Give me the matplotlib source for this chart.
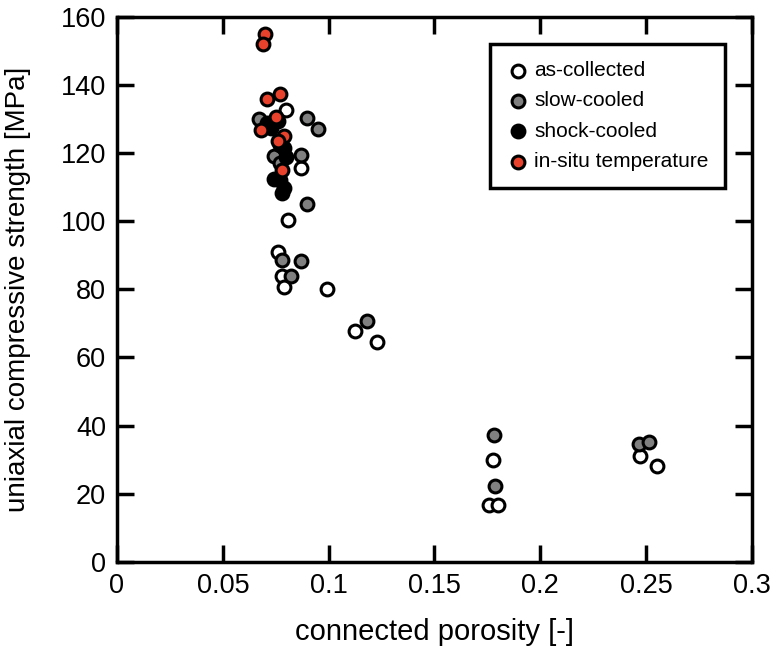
import matplotlib
matplotlib.use("Agg")
from matplotlib import pyplot as plt
import numpy as np

# connected porosity [-], UCS [MPa]
as_collected_x = [0.080, 0.087, 0.081, 0.076, 0.078, 0.079, 0.099, 0.1125, 0.123,
                  0.1777, 0.176, 0.180, 0.247, 0.255]
as_collected_y = [132.7, 115.7, 100.5, 91.0, 84.0, 80.8, 80.0, 67.8, 64.5,
                  29.8, 16.8, 16.8, 31.0, 28.0]

slow_cooled_x = [0.067, 0.090, 0.095, 0.074, 0.077, 0.087, 0.090, 0.078, 0.087,
                 0.082, 0.118, 0.178, 0.1786, 0.2466, 0.2513]
slow_cooled_y = [130.0, 130.3, 127.0, 119.3, 117.0, 119.5, 105.0, 88.7, 88.4,
                 83.8, 70.8, 37.3, 22.3, 34.6, 35.3]

shock_cooled_x = [0.071, 0.073, 0.076, 0.077, 0.079, 0.080, 0.074, 0.077, 0.079, 0.078]
shock_cooled_y = [129.0, 127.5, 129.5, 122.3, 121.5, 119.0, 112.5, 112.0, 109.8, 108.3]

in_situ_x = [0.070, 0.069, 0.071, 0.077, 0.075, 0.068, 0.079, 0.076, 0.078]
in_situ_y = [155.0, 152.0, 136.0, 137.5, 130.6, 126.8, 125.0, 123.5, 115.0]

series = [
    (as_collected_x, as_collected_y, 'white', 'as-collected'),
    (slow_cooled_x, slow_cooled_y, '#808080', 'slow-cooled'),
    (shock_cooled_x, shock_cooled_y, 'black', 'shock-cooled'),
    (in_situ_x, in_situ_y, '#e8412c', 'in-situ temperature'),
]

plt.rcParams['font.family'] = ['Liberation Sans', 'DejaVu Sans']

fig = plt.figure(figsize=(7.8, 6.57), dpi=100)
ax = fig.add_axes([0.150, 0.145, 0.814, 0.829])

for x, y, c, lab in series:
    ax.scatter(x, y, s=85, facecolor=c, edgecolor='black', linewidth=2.2,
               label=lab, zorder=3)

ax.set_xlim(0, 0.3)
ax.set_ylim(0, 160)
ax.set_xticks(np.arange(0, 0.31, 0.05))
ax.set_xticklabels(['0', '0.05', '0.1', '0.15', '0.2', '0.25', '0.3'])
ax.set_yticks(np.arange(0, 161, 20))

for s in ax.spines.values():
    s.set_linewidth(2.5)
ax.tick_params(direction='in', length=12, width=2.5, top=True, right=True,
               labelsize=19.5, pad=8)

ax.set_xlabel('connected porosity [-]', fontsize=21, labelpad=14)
ax.set_ylabel('uniaxial compressive strength [MPa]', fontsize=20)
ax.yaxis.set_label_coords(-0.135, 0.5)

leg = ax.legend(loc='upper right', bbox_to_anchor=(0.958, 0.950), fontsize=15,
                frameon=True, fancybox=False, edgecolor='black', framealpha=1,
                handletextpad=0.3, borderpad=0.8, labelspacing=0.55,
                handlelength=1.0, scatterpoints=1, borderaxespad=0)
leg.get_frame().set_linewidth(2.5)

fig.savefig('out.png', dpi=100)
